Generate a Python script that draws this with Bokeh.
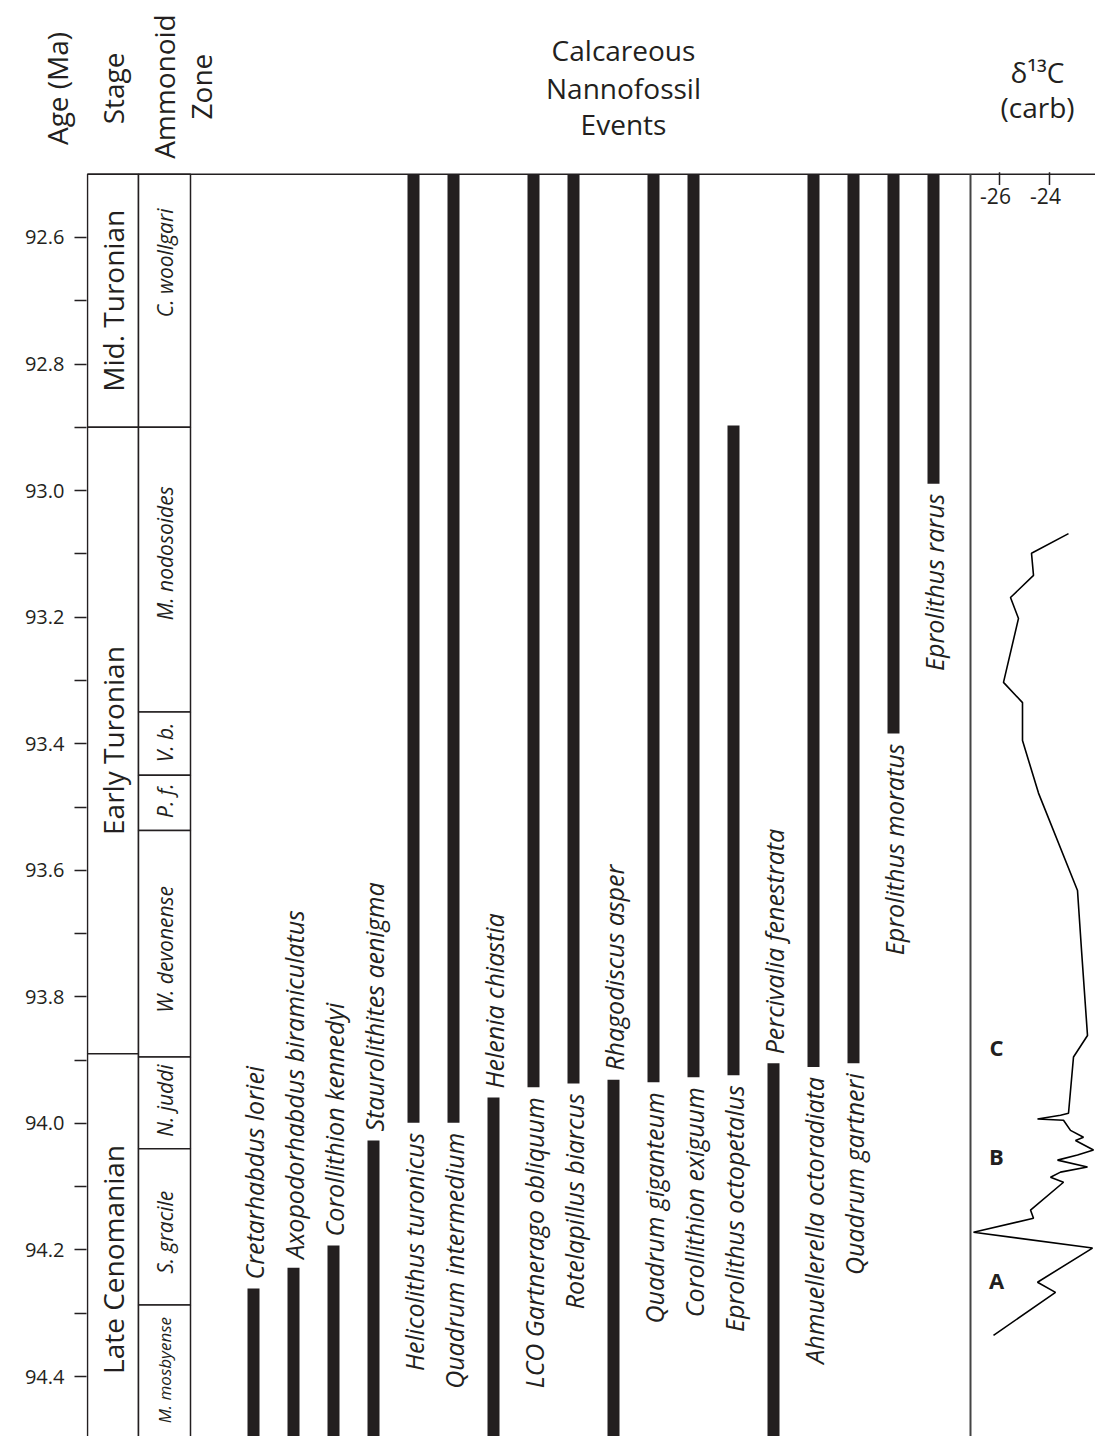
import numpy as np
from bokeh.plotting import figure
from bokeh.layouts import column
from bokeh.models import Range1d, FixedTicker, PrintfTickFormatter
from bokeh.core.properties import value
from bokeh.embed import file_html
from bokeh.resources import INLINE

# ---------------- data ----------------
age_ticks = [92.6, 92.8, 93.0, 93.2, 93.4, 93.6, 93.8, 94.0, 94.2, 94.4]
age_minor = [92.7, 92.9, 93.1, 93.3, 93.5, 93.7, 93.9, 94.1, 94.3]

stage_names = ["Mid. Turonian", "Early Turonian", "Late Cenomanian"]
stage_tops = [92.5, 92.9, 93.89]
stage_bases = [92.9, 93.89, 94.53]

zone_names = ["C. woollgari", "M. nodosoides", "V. b.", "P. f.",
              "W. devonense", "N. juddi", "S. gracile", "M. mosbyense"]
zone_tops = [92.5, 92.9, 93.35, 93.45, 93.537, 93.895, 94.04, 94.287]
zone_bases = [92.9, 93.35, 93.45, 93.537, 93.895, 94.04, 94.287, 94.53]

event_names = ["Cretarhabdus loriei", "Axopodorhabdus biramiculatus",
               "Corollithion kennedyi", "Staurolithites aenigma",
               "Helicolithus turonicus", "Quadrum intermedium",
               "Helenia chiastia", "LCO Gartnerago obliquum",
               "Rotelapillus biarcus", "Rhagodiscus asper",
               "Quadrum giganteum", "Corollithion exiguum",
               "Eprolithus octopetalus", "Percivalia fenestrata",
               "Ahmuellerella octoradiata", "Quadrum gartneri",
               "Eprolithus moratus", "Eprolithus rarus"]
event_top = [94.261, 94.228, 94.193, 94.027, 92.5, 92.5, 93.959, 92.5, 92.5,
             93.931, 92.5, 92.5, 92.897, 93.905, 92.5, 92.5, 92.5, 92.5]
event_base = [94.5, 94.5, 94.5, 94.5, 93.999, 93.999, 94.5, 93.943, 93.937,
              94.5, 93.935, 93.927, 93.924, 94.5, 93.911, 93.905, 93.384, 92.989]
label_end = ["top", "top", "top", "top", "base", "base", "top", "base", "base",
             "top", "base", "base", "base", "top", "base", "base", "base", "base"]

d13c_age = [93.068, 93.099, 93.134, 93.169, 93.202, 93.303, 93.335, 93.395,
            93.478, 93.632, 93.726, 93.861, 93.895, 93.984, 93.987, 93.993,
            93.995, 94.011, 94.022, 94.027, 94.042, 94.050, 94.058, 94.069,
            94.077, 94.085, 94.093, 94.137, 94.150, 94.172, 94.197, 94.251,
            94.267, 94.335]
d13c_val = [-23.24, -24.72, -24.64, -25.56, -25.24, -25.84, -25.08, -25.08,
            -24.44, -22.88, -22.72, -22.48, -23.04, -23.24, -23.56, -24.48,
            -23.44, -23.16, -22.64, -22.96, -22.24, -22.88, -23.68, -22.48,
            -23.56, -23.96, -23.44, -24.76, -24.64, -27.04, -22.28, -24.48,
            -23.76, -26.24]
d13c_ticks = [-26, -24]
segment_names = ["C", "B", "A"]
segment_age = [93.88, 94.051, 94.248]

# ---------------- layout ----------------
INK = "#231f20"
FONT = value("Open Sans")
W, H_HEAD, H_MAIN = 1095, 170, 1266
PX_PER_MA = 632.8
LEFT_BORDER = 86
SLOT = 40.0                               # px between event columns
x_left, x_right = -4.175, 21.05          # slot units (event i sits at x = i)
stage_l, stage_r = -4.15, -2.875
zone_l, zone_r = -2.875, -1.575
panel_r = 17.925                          # right border of events panel
age_top = 92.5
head_top = 92.2255
head_bot = head_top + H_HEAD / PX_PER_MA
main_bot = head_bot + H_MAIN / PX_PER_MA
d13c_main = (-62.52, -22.16)
d13c_head = (d13c_main[0] - LEFT_BORDER / 25.0, -22.16)


def base_fig(height, xr, yr, d13r, left):
    f = figure(width=W, height=height, output_backend="svg",
               toolbar_location=None, x_range=Range1d(*xr),
               y_range=Range1d(*yr), x_axis_location=None,
               y_axis_location="left" if left else None,
               min_border_left=left, min_border_right=0, min_border_top=0,
               min_border_bottom=0)
    try:
        f.frame_align = False
    except Exception:
        pass
    f.extra_x_ranges = {"d13c": Range1d(*d13r)}
    f.outline_line_color = None
    f.grid.visible = False
    f.background_fill_color = "white"
    f.border_fill_color = "white"
    return f


# ---- header strip ----
h = base_fig(H_HEAD, (x_left - LEFT_BORDER / SLOT, x_right),
             (head_bot, head_top), d13c_head, 0)
h.text(x=[-4.925, -3.525, -2.25, -1.325],
       y=[92.3645, 92.3645, 92.3615, 92.3615],
       text=["Age (Ma)", "Stage", "Ammonoid", "Zone"], angle=np.pi / 2,
       text_align="center", text_baseline="middle", text_font=FONT,
       text_font_size="28px", text_color=INK)
h.text(x=[9.25] * 3, y=[92.303, 92.363, 92.4214],
       text=["Calcareous", "Nannofossil", "Events"], text_align="center",
       text_baseline="alphabetic", text_font=FONT, text_font_size="28px",
       text_color=INK)
h.text(x=[-24.48, -24.48], y=[92.3377, 92.394], text=["δ¹³C", "(carb)"],
       x_range_name="d13c", text_align="center", text_baseline="alphabetic",
       text_font=FONT, text_font_size="28px", text_color=INK)

# ---- main chart ----
p = base_fig(H_MAIN, (x_left, x_right), (main_bot, head_bot), d13c_main,
             LEFT_BORDER)

ax = p.yaxis[0]
ax.ticker = FixedTicker(ticks=age_ticks, minor_ticks=age_minor)
ax.formatter = PrintfTickFormatter(format="%.1f")
ax.axis_line_color = None
ax.major_tick_out = 12
ax.major_tick_in = 0
ax.minor_tick_out = 12
ax.minor_tick_in = 0
ax.major_tick_line_color = INK
ax.minor_tick_line_color = INK
ax.major_tick_line_width = 1.5
ax.minor_tick_line_width = 1.5
ax.major_label_standoff = 10
ax.major_label_text_font = "Open Sans"
ax.major_label_text_font_size = "20px"
ax.major_label_text_color = INK

# stage & zone boxes
n_st = len(stage_names)
p.quad(left=[stage_l] * n_st, right=[stage_r] * n_st, top=stage_tops,
       bottom=stage_bases, fill_color="white", line_color=INK, line_width=1.5)
n_z = len(zone_names)
p.quad(left=[zone_l] * n_z, right=[zone_r] * n_z, top=zone_tops,
       bottom=zone_bases, fill_color="white", line_color=INK, line_width=1.5)

stage_text_age = [92.7, 93.395, 94.215]
p.text(x=[(stage_l + stage_r) / 2] * n_st, y=stage_text_age, text=stage_names,
       angle=np.pi / 2, text_align="center", text_baseline="middle",
       text_font=FONT, text_font_size="28px", text_color=INK)
zone_text_age = [92.64, 93.099, 93.398, 93.49, 93.725, 93.964, 94.172, 94.39]
zone_sizes = ["21px"] * (n_z - 1) + ["17px"]
p.text(x=[(zone_l + zone_r) / 2] * n_z, y=zone_text_age, text=zone_names,
       angle=np.pi / 2, text_align="center", text_baseline="middle",
       text_font=FONT, text_font_style="italic", text_font_size=zone_sizes,
       text_color=INK)

# frame lines
p.segment(x0=[stage_l], x1=[x_right], y0=[age_top], y1=[age_top],
          line_color=INK, line_width=1.5)
p.segment(x0=[panel_r], x1=[panel_r], y0=[age_top], y1=[94.5],
          line_color="#444444", line_width=2)

# event bars
idx = list(range(len(event_names)))
p.vbar(x=idx, width=0.3, top=event_top, bottom=event_base,
       fill_color=INK, line_color=None)

top_i = [i for i in idx if label_end[i] == "top"]
base_i = [i for i in idx if label_end[i] == "base"]
p.text(x=top_i, y=[event_top[i] for i in top_i],
       text=[event_names[i] for i in top_i], angle=np.pi / 2,
       text_align="left", text_baseline="middle", y_offset=-9,
       text_font=FONT, text_font_style="italic", text_font_size="25px",
       text_color=INK)
p.text(x=base_i, y=[event_base[i] for i in base_i],
       text=[event_names[i] for i in base_i], angle=np.pi / 2,
       text_align="right", text_baseline="middle", y_offset=10,
       text_font=FONT, text_font_style="italic", text_font_size="25px",
       text_color=INK)

# d13C panel
p.line(x=d13c_val, y=d13c_age, x_range_name="d13c", line_color="black",
       line_width=1.6)
p.segment(x0=d13c_ticks, x1=d13c_ticks, y0=[92.497] * 2, y1=[92.517] * 2,
          x_range_name="d13c", line_color=INK, line_width=1.5)
p.text(x=d13c_ticks, y=[age_top] * 2, text=[str(t) for t in d13c_ticks],
       x_range_name="d13c", text_align="center", text_baseline="top",
       y_offset=14, x_offset=-4, text_font=FONT, text_font_size="21px",
       text_color=INK)
p.text(x=[-26.12] * 3, y=segment_age, text=segment_names, x_range_name="d13c",
       text_align="center", text_baseline="middle", text_font=FONT,
       text_font_style="bold", text_font_size="22px", text_color=INK)

layout = column(h, p, spacing=0)
open("out.html", "w").write(file_html(layout, INLINE))
